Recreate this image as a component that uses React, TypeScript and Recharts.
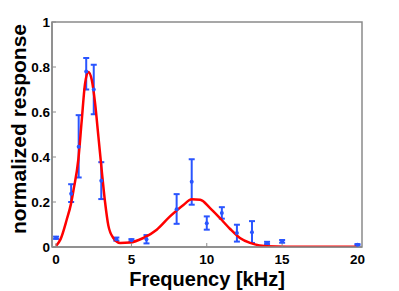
import React from "react";
import {
  ComposedChart,
  Line,
  Scatter,
  ErrorBar,
  XAxis,
  YAxis,
  ReferenceArea,
  Label,
} from "recharts";

// Measured data points (frequency in kHz)
const freqs = [0, 1, 1.5, 2, 2.5, 3, 4, 5, 6, 8, 9, 10, 11, 12, 13, 14, 15, 20];
const means = [0.041, 0.237, 0.446, 0.78, 0.7, 0.294, 0.035, 0.03, 0.035, 0.168, 0.29, 0.106, 0.151, 0.062, 0.066, 0.018, 0.025, 0.01];
const uppers = [0.046, 0.279, 0.586, 0.84, 0.81, 0.377, 0.042, 0.035, 0.053, 0.235, 0.39, 0.136, 0.177, 0.099, 0.115, 0.023, 0.031, 0.013];
const lowers = [0.036, 0.2, 0.309, 0.7, 0.59, 0.213, 0.028, 0.025, 0.016, 0.103, 0.188, 0.077, 0.126, 0.024, 0.018, 0.013, 0.019, 0.007];

// Fitted curve
const curveX = [0, 0.3, 0.7, 1.0, 1.15, 1.48, 1.7, 1.92, 2.14, 2.37, 2.59, 2.81, 3.03, 3.25, 3.47, 3.8, 4.25, 4.9, 5.79, 6.68, 7.56, 8.45, 9.0, 9.56, 10.22, 10.88, 11.55, 12.2, 12.87, 13.5, 14.6, 16, 18, 20];
const curveY = [0.005, 0.035, 0.12, 0.195, 0.25, 0.39, 0.56, 0.725, 0.778, 0.742, 0.638, 0.49, 0.34, 0.2, 0.095, 0.04, 0.018, 0.02, 0.04, 0.077, 0.136, 0.187, 0.212, 0.21, 0.173, 0.128, 0.08, 0.04, 0.018, 0.007, 0.002, 0.001, 0.001, 0.001];

const xTicks = [0, 5, 10, 15, 20];
const yTicks = [0, 0.2, 0.4, 0.6, 0.8, 1];
const yTickLabels = ["0", "0.2", "0.4", "0.6", "0.8", "1"];

const points = freqs.map((x, i) => ({
  x,
  y: means[i],
  err: [means[i] - lowers[i], uppers[i] - means[i]],
}));
const curve = curveX.map((x, i) => ({ x, y: curveY[i] }));

const FONT = "'Liberation Sans', Arial, Helvetica, sans-serif";
const BLUE = "#2a55ff";
const FRAME = "#8a8a8a";

export default function App() {
  return (
    <div style={{ position: "absolute", left: 0, top: 0 }}>
      <ComposedChart
        width={399}
        height={291}
        margin={{ top: 22, right: 37, bottom: 0, left: 0 }}
      >
        <XAxis
          type="number"
          dataKey="x"
          domain={[-0.27, 20.3]}
          ticks={xTicks}
          allowDataOverflow
          height={44}
          axisLine={{ stroke: FRAME, strokeWidth: 1.5 }}
          tickLine={{ stroke: FRAME }}
          tickSize={-4}
          tickMargin={11}
          tick={{ fill: "#000", fontSize: 13.5, fontWeight: "bold", fontFamily: FONT }}
        >
          <Label
            content={(props: any) => {
              const vb = props.viewBox || { x: 52, y: 247, width: 310 };
              return (
                <text
                  x={vb.x + vb.width / 2}
                  y={vb.y + 39}
                  textAnchor="middle"
                  fontSize={20}
                  fontWeight="bold"
                  fontFamily={FONT}
                  fill="#000"
                >
                  Frequency [kHz]
                </text>
              );
            }}
          />
        </XAxis>
        <YAxis
          type="number"
          dataKey="y"
          domain={[0, 1]}
          ticks={yTicks}
          allowDataOverflow
          width={52}
          axisLine={{ stroke: FRAME, strokeWidth: 1.5 }}
          tickLine={{ stroke: FRAME }}
          tickSize={-4}
          tickMargin={6}
          tickFormatter={(v: number) => yTickLabels[yTicks.indexOf(v)] ?? String(v)}
          tick={{ fill: "#000", fontSize: 13.5, fontWeight: "bold", fontFamily: FONT }}
        >
          <Label
            content={(props: any) => {
              const vb = props.viewBox || { x: 0, y: 22, height: 225 };
              const cx = vb.x + 18;
              const cy = vb.y + vb.height / 2 - 5.5;
              return (
                <text
                  x={cx}
                  y={cy}
                  transform={`rotate(-90, ${cx}, ${cy})`}
                  textAnchor="middle"
                  dominantBaseline="central"
                  fontSize={21}
                  fontWeight="bold"
                  fontFamily={FONT}
                  fill="#000"
                >
                  normalized response
                </text>
              );
            }}
          />
        </YAxis>
        <ReferenceArea
          x1={-0.27}
          x2={20.3}
          y1={0}
          y2={1}
          fill="none"
          stroke={FRAME}
          strokeWidth={1.5}
          strokeOpacity={1}
        />
        <Scatter
          data={points}
          dataKey="y"
          fill={BLUE}
          isAnimationActive={false}
          shape={(p: any) => <circle cx={p.cx} cy={p.cy} r={2} fill={BLUE} />}
        >
          <ErrorBar
            dataKey="err"
            direction="y"
            width={3}
            stroke={BLUE}
            strokeWidth={2}
            isAnimationActive={false}
          />
        </Scatter>
        <Line
          data={curve}
          dataKey="y"
          type="monotone"
          stroke="#ff0000"
          strokeWidth={2.5}
          dot={false}
          activeDot={false}
          isAnimationActive={false}
        />
      </ComposedChart>
    </div>
  );
}
